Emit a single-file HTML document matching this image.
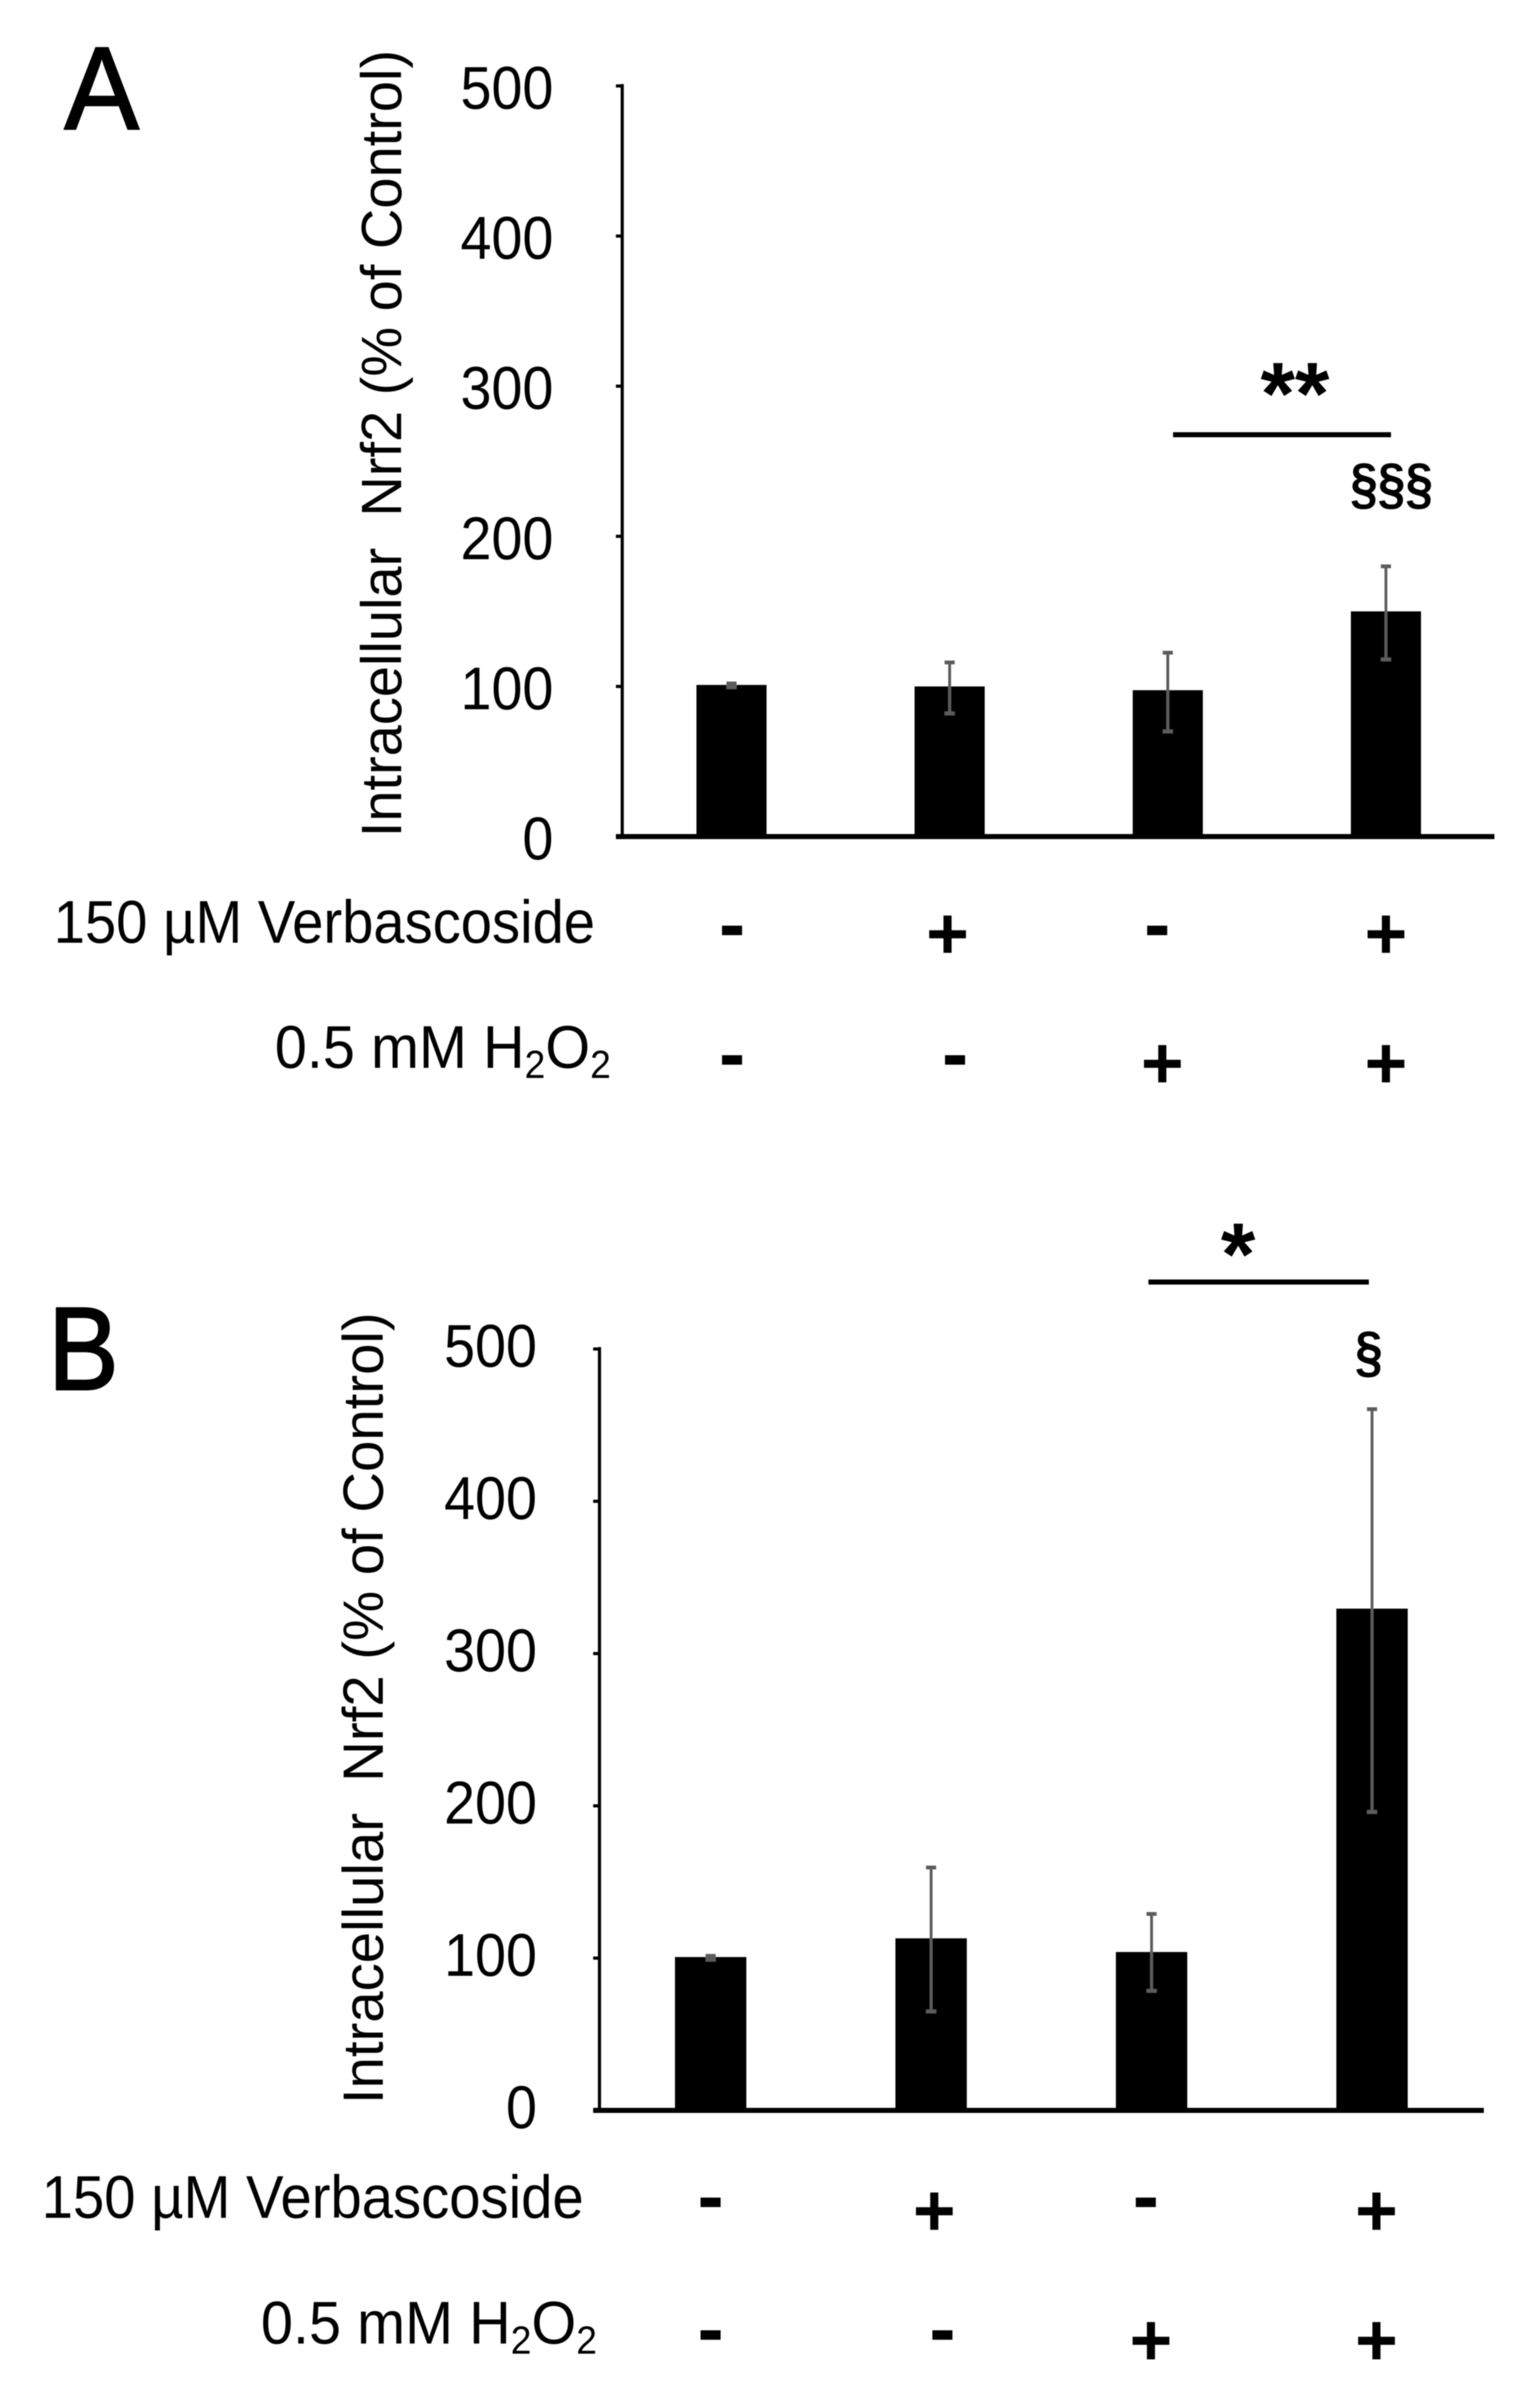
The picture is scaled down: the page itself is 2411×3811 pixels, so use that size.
<!DOCTYPE html>
<html lang="en">
<head>
<meta charset="utf-8">
<title>Intracellular Nrf2 bar charts</title>
<style>
html,body{margin:0;padding:0;background:#fff;}
svg{display:block;}
text{font-family:"Liberation Sans",sans-serif;fill:#000;}
.lab{font-size:96px;}
.plus{font-size:116px;font-weight:bold;text-anchor:middle;}
.minus{font-size:125px;font-weight:bold;text-anchor:middle;}
.sub{font-size:62px;}
</style>
</head>
<body>
<svg id="fig" xmlns="http://www.w3.org/2000/svg" width="2411" height="3811" viewBox="0 0 2411 3811">
<defs><filter id="soft" x="0" y="0" width="100%" height="100%"><feGaussianBlur stdDeviation="0.9"/></filter></defs>
<rect x="0" y="0" width="2411" height="3811" fill="#fff"/>
<g id="root" filter="url(#soft)">
  <text x="102" y="204" font-size="186" stroke="#000" stroke-width="3" textLength="118" lengthAdjust="spacingAndGlyphs">A</text>
  <text transform="translate(635,1325) rotate(-90)" font-size="90" textLength="1246" lengthAdjust="spacingAndGlyphs">Intracellular&#160;&#160;Nrf2 (% of Control)</text>
  <text class="lab" x="85" y="1492" textLength="857" lengthAdjust="spacingAndGlyphs">150 µM Verbascoside</text>
  <text class="lab" x="435" y="1690" textLength="532" lengthAdjust="spacingAndGlyphs">0.5 mM H<tspan class="sub" dy="16">2</tspan><tspan dy="-16">O</tspan><tspan class="sub" dy="16">2</tspan></text>
  <text class="minus" x="1159" y="1505">-</text>
  <text class="plus" x="1500" y="1517">+</text>
  <text class="minus" x="1832" y="1505">-</text>
  <text class="plus" x="2194" y="1517">+</text>
  <text class="minus" x="1159" y="1710">-</text>
  <text class="minus" x="1512" y="1710">-</text>
  <text class="plus" x="1840" y="1722">+</text>
  <text class="plus" x="2194" y="1722">+</text>
  <rect x="1857" y="684" width="345" height="8" fill="#000"/>
  <text x="2050" y="671" font-size="140" font-weight="bold" text-anchor="middle">**</text>
  <text x="2203" y="796" font-size="90" font-weight="bold" text-anchor="middle" textLength="131" lengthAdjust="spacingAndGlyphs">§§§</text>

  <text x="76" y="2199" font-size="187" stroke="#000" stroke-width="3" textLength="112" lengthAdjust="spacingAndGlyphs">B</text>
  <text transform="translate(606,3330) rotate(-90)" font-size="90" textLength="1253" lengthAdjust="spacingAndGlyphs">Intracellular&#160;&#160;Nrf2 (% of Control)</text>
  <text class="lab" x="66" y="3510" textLength="858" lengthAdjust="spacingAndGlyphs">150 µM Verbascoside</text>
  <text class="lab" x="413" y="3709" textLength="532" lengthAdjust="spacingAndGlyphs">0.5 mM H<tspan class="sub" dy="16">2</tspan><tspan dy="-16">O</tspan><tspan class="sub" dy="16">2</tspan></text>
  <text class="minus" x="1125" y="3518">-</text>
  <text class="plus" x="1479" y="3538">+</text>
  <text class="minus" x="1814" y="3518">-</text>
  <text class="plus" x="2179" y="3538">+</text>
  <text class="minus" x="1125" y="3728">-</text>
  <text class="minus" x="1492" y="3728">-</text>
  <text class="plus" x="1822" y="3743">+</text>
  <text class="plus" x="2179" y="3743">+</text>
  <rect x="1818" y="2025" width="349" height="8" fill="#000"/>
  <text x="1960" y="2033" font-size="140" font-weight="bold" text-anchor="middle">*</text>
  <text x="2167" y="2170" font-size="90" font-weight="bold" text-anchor="middle" textLength="44" lengthAdjust="spacingAndGlyphs">§</text>
  <g id="chart-a"></g>
  <g id="chart-b"></g>
</g>
</svg>
<script>
const tickLabels = [0, 100, 200, 300, 400, 500];
const groupsA = ["control", "verbascoside", "h2o2", "verbascoside-h2o2"];
const valuesA = [101, 100, 97.5, 150];
const errTopA = [102, 116, 122.5, 180];
const errLowA = [99.5, 82, 70, 118];
const groupsB = ["control", "verbascoside", "h2o2", "verbascoside-h2o2"];
const valuesB = [100.7, 113, 104, 329.5];
const errTopB = [101.5, 159.5, 129, 460.5];
const errLowB = [99, 65, 78.5, 196];

const NS = "http://www.w3.org/2000/svg";
function mk(parent, tag, attrs) {
  const el = document.createElementNS(NS, tag);
  for (const k in attrs) el.setAttribute(k, attrs[k]);
  parent.appendChild(el);
  return el;
}
function drawPanel(id, cfg, groups, values, errTop, errLow) {
  const g = document.getElementById(id);
  const maxTick = tickLabels[tickLabels.length - 1];
  const y = v => cfg.bottom - (v / maxTick) * (cfg.bottom - cfg.top);
  const x = i => cfg.firstX + i * (cfg.lastX - cfg.firstX) / (groups.length - 1);

  values.forEach((v, i) => {
    const bar = mk(g, "rect", {x: x(i) - cfg.barW / 2, y: y(v), width: cfg.barW, height: cfg.bottom - y(v), fill: "#000"});
    
    
  });
  values.forEach((v, i) => {
    const stem = mk(g, "line", {x1: x(i), x2: x(i), y1: y(errTop[i]), y2: y(errLow[i]), stroke: "#5c5c5c", "stroke-width": 4.5});
    
    
    const capT = mk(g, "line", {x1: x(i) - 8, x2: x(i) + 8, y1: y(errTop[i]), y2: y(errTop[i]), stroke: "#5c5c5c", "stroke-width": 6});
    
    
    const capL = mk(g, "line", {x1: x(i) - 8, x2: x(i) + 8, y1: y(errLow[i]), y2: y(errLow[i]), stroke: "#5c5c5c", "stroke-width": 6});
    
    
  });
  const yAxis = mk(g, "line", {x1: cfg.axisX, x2: cfg.axisX, y1: cfg.top - 3, y2: cfg.bottom, stroke: "#000", "stroke-width": 5});
  
  
  const xAxis = mk(g, "line", {x1: cfg.axisX - 10, x2: cfg.right, y1: cfg.bottom, y2: cfg.bottom, stroke: "#000", "stroke-width": 8});
  
  
  tickLabels.forEach(t => {
    const tick = mk(g, "line", {x1: cfg.axisX - 10, x2: cfg.axisX, y1: y(t), y2: y(t), stroke: "#000", "stroke-width": 5});
    
    
    const s = String(t);
    const label = mk(g, "text", {x: cfg.labelX, y: y(t) + cfg.labelDy, "font-size": 96, "text-anchor": "end", textLength: s.length * 49, lengthAdjust: "spacingAndGlyphs"});
    label.textContent = s;
    
    
  });
}
drawPanel("chart-a", {top: 136, bottom: 1324, axisX: 985, right: 2366, firstX: 1158, lastX: 2194, barW: 111, labelX: 876, labelDy: 36}, groupsA, valuesA, errTopA, errLowA);
drawPanel("chart-b", {top: 2135, bottom: 3340, axisX: 949, right: 2349, firstX: 1125, lastX: 2172, barW: 113, labelX: 850, labelDy: 28}, groupsB, valuesB, errTopB, errLowB);
</script>
</body>
</html>
